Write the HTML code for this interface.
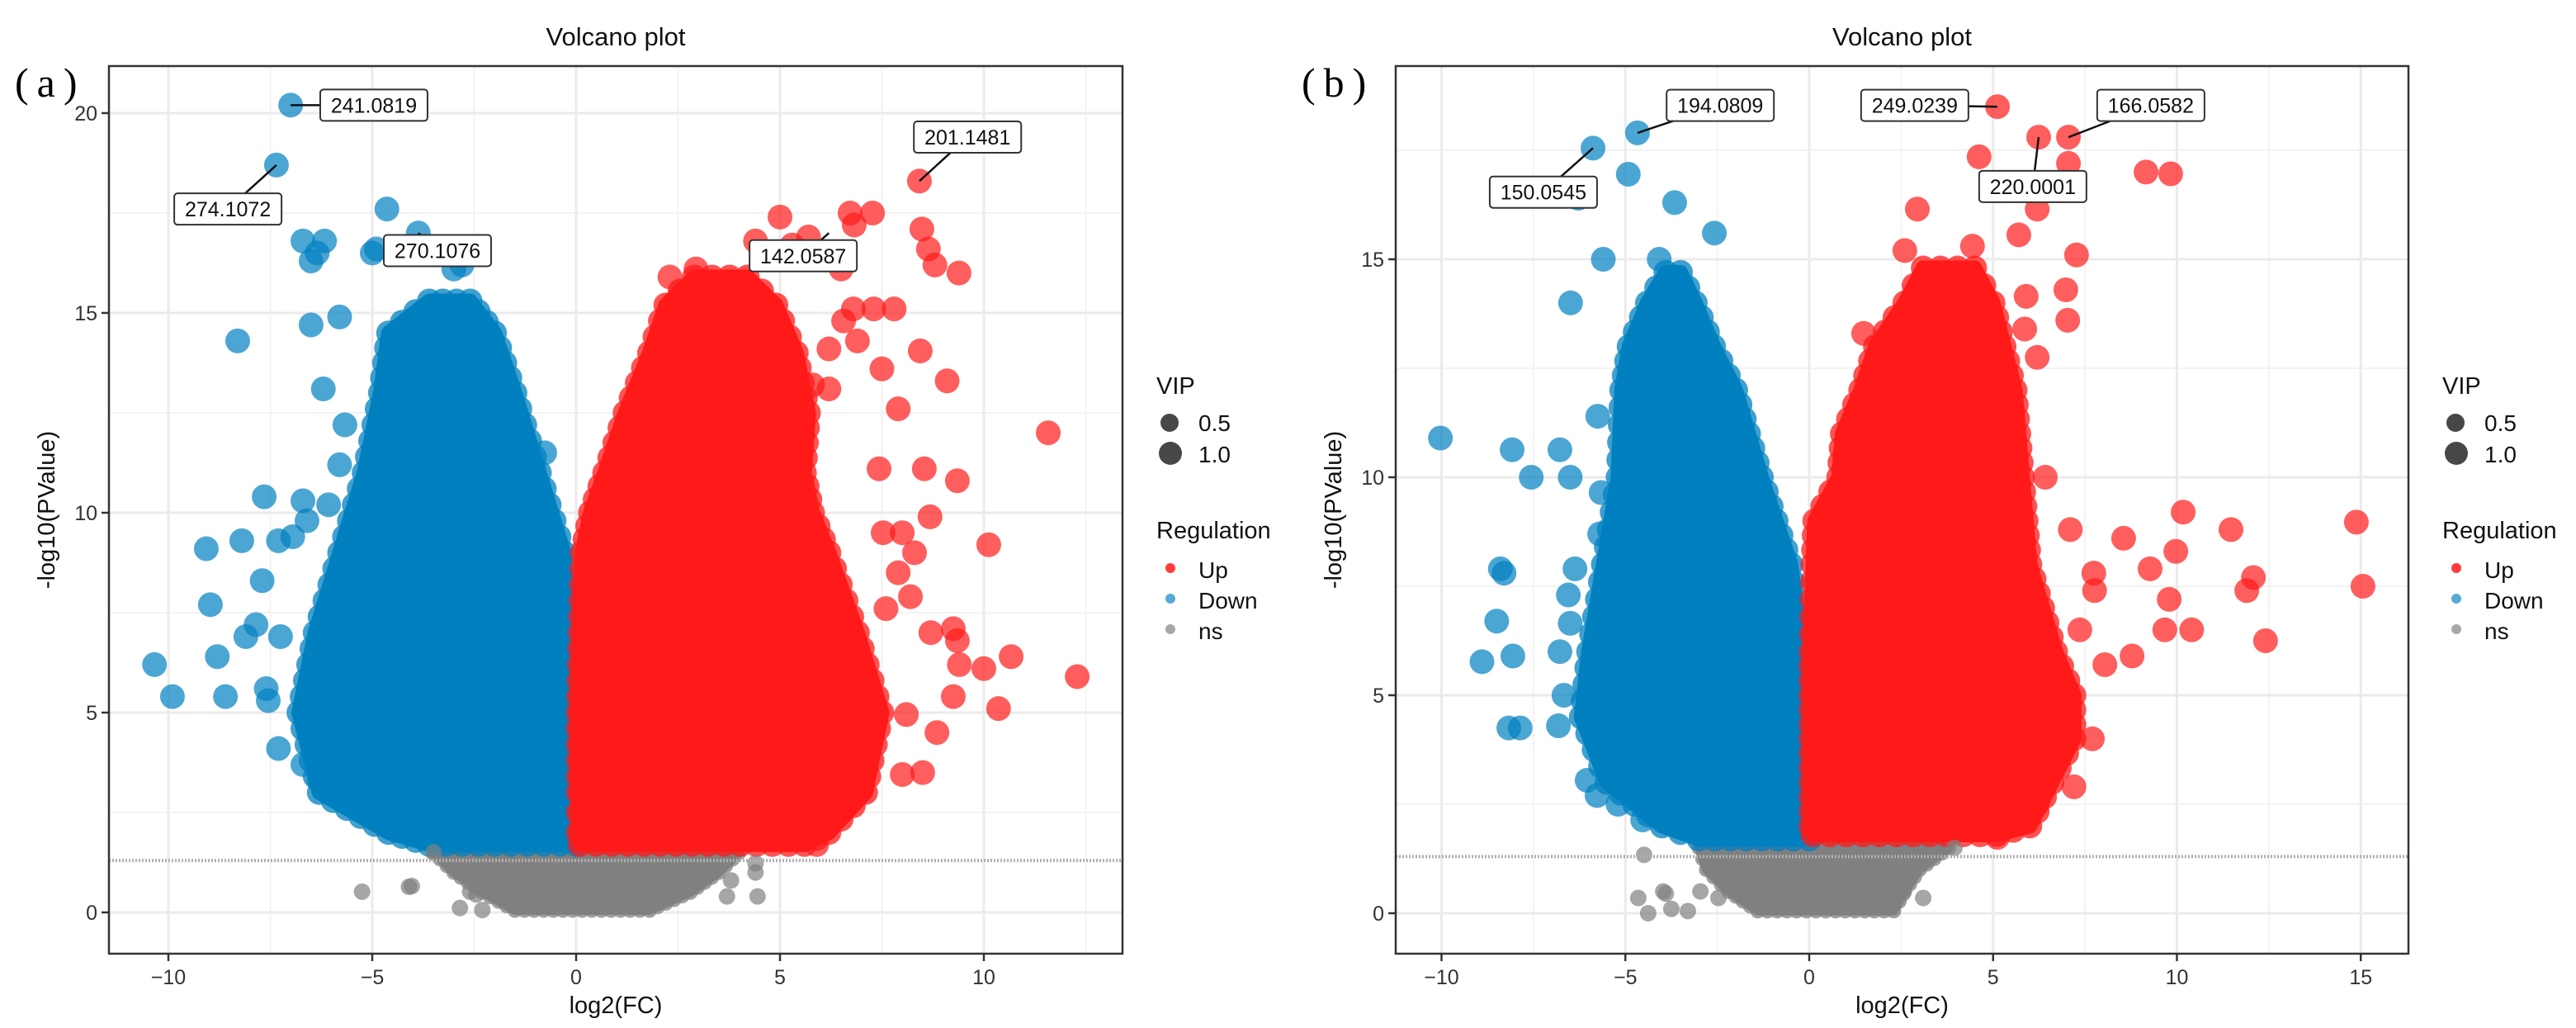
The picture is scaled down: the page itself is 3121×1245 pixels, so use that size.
<!DOCTYPE html>
<html><head><meta charset="utf-8"><style>
html,body{margin:0;padding:0;background:#fff;}
svg{display:block;}
text{font-family:"Liberation Sans",Arial,sans-serif;}
</style></head><body>
<svg id="chart" width="3121" height="1245" viewBox="0 0 3121 1245" xmlns="http://www.w3.org/2000/svg"></svg>
<script>
// ---------- Panel (a) data ----------
const aXTicks = [-10, -5, 0, 5, 10];
const aYTicks = [0, 5, 10, 15, 20];
const aXMinor = [-7.5, -2.5, 2.5, 7.5, 12.5];
const aYMinor = [2.5, 7.5, 12.5, 17.5];
const aDownY     = [1.7, 2, 3, 5, 7, 9, 11, 13, 14.5, 15.3];
const aDownLeft  = [-3.6, -4.6, -6.3, -6.8, -6.4, -5.8, -5.2, -4.8, -4.6, -3.6];
const aDownRight = [0, 0, 0, -0.05, -0.1, -0.3, -0.9, -1.5, -2.0, -2.6];
const aUpY     = [1.7, 2, 3, 5, 7, 9, 10, 11, 12.5, 14, 15.2, 15.9];
const aUpLeft  = [0.1, 0.05, 0.05, 0.05, 0.1, 0.15, 0.35, 0.7, 1.2, 1.8, 2.2, 2.9];
const aUpRight = [5.6, 6.2, 7.1, 7.5, 6.9, 6.2, 5.8, 5.6, 5.7, 5.4, 4.9, 4.2];
const aNsY     = [0.05, 0.5, 1.0, 1.5, 1.9];
const aNsLeft  = [-1.5, -2.3, -3.0, -3.5, -2.2];
const aNsRight = [1.8, 2.8, 3.5, 4.0, 1.8];
const aDownPtsX = [-7.0,-7.35,-4.64,-3.87,-6.7,-6.17,-6.5,-6.35,-5.0,-4.9,-3.0,-2.8,-8.3,-6.5,-5.8,-6.2,-5.67,-5.8,-0.77,-7.65,-6.7,-6.07,-6.6,-9.07,-8.2,-7.3,-6.95,-7.7,-8.97,-7.85,-8.1,-7.25,-10.34,-8.8,-9.9,-8.6,-7.6,-7.55,-7.3,-6.7,-6.3];
const aDownPtsY = [20.2,18.7,17.6,17.0,16.8,16.8,16.3,16.5,16.5,16.6,16.1,16.2,14.3,14.7,14.9,13.1,12.2,11.2,11.5,10.4,10.3,10.2,9.8,9.1,9.3,9.3,9.4,8.3,7.7,7.2,6.9,6.9,6.2,6.4,5.4,5.4,5.6,5.3,4.1,3.7,3.3];
const aUpPtsX = [8.42,6.72,7.27,6.82,5.0,8.48,8.64,8.8,9.39,4.4,5.3,5.7,6.5,2.94,2.3,6.8,7.3,7.8,6.56,6.9,6.2,8.44,7.5,9.1,5.8,6.2,7.9,11.58,7.43,8.54,9.35,8.68,7.53,8.0,10.12,8.3,7.9,8.2,7.6,9.25,9.35,8.7,10.67,10.0,9.4,12.29,9.25,10.36,8.85,8.1,8.0,8.5,5.9];
const aUpPtsY = [18.3,17.5,17.5,17.2,17.4,17.1,16.6,16.2,16.0,16.8,16.7,16.9,16.1,16.1,15.9,15.1,15.1,15.1,14.8,14.3,14.1,14.05,13.6,13.3,13.2,13.1,12.6,12.0,11.1,11.1,10.8,9.9,9.5,9.5,9.2,9.0,8.5,7.9,7.6,7.1,6.8,7.0,6.4,6.1,6.2,5.9,5.4,5.1,4.5,4.95,3.45,3.5,1.7];
const aNsPtsX = [-5.25,-4.03,-4.1,-2.85,-2.6,-2.45,-2.3,-3.5,-2.9,4.4,4.4,4.45,3.7,3.8];
const aNsPtsY = [0.52,0.66,0.64,0.11,0.52,0.45,0.06,1.5,1.2,1.23,1.0,0.4,0.4,0.8];
const aLabelText = ["241.0819","274.1072","270.1076","201.1481","142.0587"];
const aLabelPtX = [-7.0,-7.35,-3.87,8.42,6.2];
const aLabelPtY = [20.2,18.7,17.0,18.3,17.0];
const aLabelX = [-4.96,-8.54,-3.4,9.6,5.57];
const aLabelY = [20.2,17.6,16.56,19.4,16.43];

// ---------- Panel (b) data ----------
const bXTicks = [-10, -5, 0, 5, 10, 15];
const bYTicks = [0, 5, 10, 15];
const bXMinor = [-7.5, -2.5, 2.5, 7.5, 12.5];
const bYMinor = [2.5, 7.5, 12.5, 17.5];
const bDownY     = [1.7, 2, 3, 4.5, 6, 8, 10, 12, 13, 14, 14.7];
const bDownLeft  = [-3.0, -4.0, -5.5, -6.2, -6.0, -5.6, -5.2, -5.1, -4.9, -4.4, -3.9];
const bDownRight = [0, 0, 0, 0, -0.2, -0.5, -1.3, -2.0, -2.6, -3.1, -3.5];
const bUpY     = [1.8, 2, 3, 4, 5, 6, 8, 9, 10, 11, 12, 13, 14, 14.8];
const bUpLeft  = [0.1, 0.05, 0.05, 0.05, 0.05, 0.05, 0.1, 0.15, 0.8, 0.9, 1.4, 1.8, 2.6, 3.1];
const bUpRight = [5.1, 6.0, 6.6, 7.2, 7.2, 6.7, 6.0, 5.9, 5.8, 5.7, 5.6, 5.3, 5.0, 4.5];
const bNsY     = [0.05, 0.5, 1.0, 1.5, 1.9];
const bNsLeft  = [-1.4, -2.2, -2.8, -3.0, -2.0];
const bNsRight = [2.3, 2.6, 3.0, 3.8, 1.6];
const bDownPtsX = [-4.67,-5.88,-4.92,-6.28,-3.66,-2.58,-5.6,-6.49,-4.08,-3.46,-5.75,-10.03,-8.08,-6.78,-7.56,-6.5,-5.66,-5.1,-5.7,-8.4,-8.3,-6.37,-5.54,-6.55,-8.5,-6.5,-8.9,-8.06,-6.78,-6.67,-8.17,-7.86,-6.82,-6.04,-5.77,-5.2,-4.53];
const bDownPtsY = [17.9,17.55,16.95,16.4,16.3,15.6,15.0,14.0,15.0,14.4,11.4,10.9,10.63,10.63,10.0,10.0,9.65,9.4,8.7,7.9,7.8,7.9,7.7,7.3,6.7,6.65,5.77,5.9,6.0,5.0,4.25,4.25,4.3,3.05,2.7,2.5,2.14];
const bUpPtsX = [5.12,6.24,7.05,4.62,7.05,9.16,9.83,6.2,2.94,5.7,7.27,2.6,4.44,6.98,5.9,7.03,5.86,1.48,6.2,6.42,7.1,8.55,10.17,11.47,14.88,9.97,9.27,7.74,7.76,12.08,11.9,15.06,9.79,9.67,10.4,7.36,12.41,8.78,8.04,7.7,7.2,6.2,5.12];
const bUpPtsY = [18.5,17.8,17.8,17.35,17.2,17.0,16.96,16.15,16.15,15.56,15.1,15.2,15.3,14.3,14.15,13.6,13.4,13.3,12.75,10.0,8.8,8.6,9.2,8.8,8.97,8.3,7.9,7.8,7.4,7.7,7.4,7.5,7.2,6.5,6.5,6.5,6.25,5.9,5.7,4.0,2.9,2.5,1.74];
const bNsPtsX = [-4.49,-3.97,-3.9,-4.65,-3.75,-3.3,-4.38,-2.96,-2.47,3.1,2.54,3.95,2.3];
const bNsPtsY = [1.34,0.5,0.45,0.35,0.1,0.05,0.0,0.5,0.35,0.35,0.45,1.5,0.2];
const bLabelText = ["194.0809","150.0545","249.0239","166.0582","220.0001"];
const bLabelPtX = [-4.67,-5.88,5.12,7.05,6.24];
const bLabelPtY = [17.9,17.55,18.5,17.8,17.8];
const bLabelX = [-2.42,-7.23,2.87,9.29,6.08];
const bLabelY = [18.53,16.54,18.53,18.53,16.67];

const NS = "http://www.w3.org/2000/svg";
const svg = document.getElementById("chart");
function mk(tag, attrs, parent) {
  const e = document.createElementNS(NS, tag);
  for (const k in attrs) e.setAttribute(k, attrs[k]);
  (parent || svg).appendChild(e);
  return e;
}

const BLUE = "#0080bf", RED = "#ff1a1a", GREY = "#808080";

function drawPanel(cfg, d) {
  const g = mk("g", {});
  
  
  const sx = v => cfg.x0 + v * cfg.xs;
  const sy = v => cfg.y0 - v * cfg.ys;
  const L = cfg.left, R = cfg.right, T = cfg.top, B = cfg.bottom;
  mk("rect", {x: L, y: T, width: R - L, height: B - T, fill: "#fff"}, g);
  d.xMinor.forEach(v => { const x = sx(v); if (x > L && x < R) mk("line", {x1: x, x2: x, y1: T, y2: B, stroke: "#f3f3f3", "stroke-width": 2}, g); });
  d.yMinor.forEach(v => { const y = sy(v); if (y > T && y < B) mk("line", {x1: L, x2: R, y1: y, y2: y, stroke: "#f3f3f3", "stroke-width": 2}, g); });
  d.xTicks.forEach(v => { const x = sx(v); mk("line", {x1: x, x2: x, y1: T, y2: B, stroke: "#ebebeb", "stroke-width": 3}, g); });
  d.yTicks.forEach(v => { const y = sy(v); mk("line", {x1: L, x2: R, y1: y, y2: y, stroke: "#ebebeb", "stroke-width": 3}, g); });

  function mass(ys, lefts, rights, color, rad, name) {
    const P = [];
    for (let i = 0; i < ys.length; i++) P.push([sx(lefts[i]), sy(ys[i])]);
    for (let i = ys.length - 1; i >= 0; i--) P.push([sx(rights[i]), sy(ys[i])]);
    const p = mk("polygon", {points: P.map(q => q[0] + "," + q[1]).join(" "), fill: color, stroke: color, "stroke-width": rad * 1.2, "stroke-linejoin": "round"}, g);
    
    
    // bumpy outline of overlapping circles
    for (let i = 0; i < P.length; i++) {
      const q = P[i], n = P[(i + 1) % P.length];
      const steps = Math.max(1, Math.round(Math.hypot(n[0] - q[0], n[1] - q[1]) / (rad * 1.3)));
      for (let k = 0; k < steps; k++) {
        const t = k / steps;
        const c = mk("circle", {cx: q[0] + (n[0] - q[0]) * t, cy: q[1] + (n[1] - q[1]) * t, r: rad, fill: color, "fill-opacity": 0.75}, g);
        
        
      }
    }
  }
  mass(d.nsY, d.nsLeft, d.nsRight, GREY, 9, "ns-point-cluster");
  mass(d.downY, d.downLeft, d.downRight, BLUE, 15, "down-point-cluster");
  mass(d.upY, d.upLeft, d.upRight, RED, 15, "up-point-cluster");

  function pts(xs, ys, color, r, name) {
    for (let i = 0; i < xs.length; i++) {
      const c = mk("circle", {cx: sx(xs[i]), cy: sy(ys[i]), r: r, fill: color, "fill-opacity": 0.7}, g);
      
      
    }
  }
  pts(d.nsX, d.nsPY, GREY, 10, "ns-point");
  pts(d.downX, d.downPY, "#0080c0", 15, "down-point");
  pts(d.upX, d.upPY, RED, 15, "up-point");

  const th = mk("line", {x1: L, x2: R, y1: sy(1.3), y2: sy(1.3), stroke: "#b0b0b0", "stroke-width": 4, "stroke-dasharray": "2,2"}, g);
  
  

  for (let i = 0; i < d.lt.length; i++) {
    const lx = sx(d.lx[i]), ly = sy(d.ly[i]);
    const ln = mk("line", {x1: sx(d.lpx[i]), y1: sy(d.lpy[i]), x2: lx, y2: ly, stroke: "#111", "stroke-width": 2.5}, g);
    
    
    const w = 130, h = 38;
    const bx = mk("rect", {x: lx - w / 2, y: ly - h / 2, width: w, height: h, rx: 4, fill: "#fff", stroke: "#333", "stroke-width": 2}, g);
    
    
    const t = mk("text", {x: lx, y: ly + 9, "font-size": 25, "text-anchor": "middle", fill: "#111"}, g);
    t.textContent = d.lt[i];
    
    
  }

  mk("rect", {x: L, y: T, width: R - L, height: B - T, fill: "none", stroke: "#333", "stroke-width": 2.5}, g);

  d.xTicks.forEach(v => {
    const x = sx(v);
    mk("line", {x1: x, x2: x, y1: B, y2: B + 9, stroke: "#333", "stroke-width": 2.5}, g);
    const t = mk("text", {x: x, y: B + 37, "font-size": 25, "text-anchor": "middle", fill: "#333"}, g);
    t.textContent = v < 0 ? "\u2212" + (-v) : String(v);
    
    
  });
  d.yTicks.forEach(v => {
    const y = sy(v);
    mk("line", {x1: L - 9, x2: L, y1: y, y2: y, stroke: "#333", "stroke-width": 2.5}, g);
    const t = mk("text", {x: L - 14, y: y + 9, "font-size": 25, "text-anchor": "end", fill: "#333"}, g);
    t.textContent = String(v);
    
    
  });

  const cx = (L + R) / 2;
  const tt = mk("text", {x: cx, y: 55, "font-size": 31, "text-anchor": "middle", fill: "#111"}, g);
  tt.textContent = "Volcano plot";
  
  
  const xt = mk("text", {x: cx, y: 1227, "font-size": 29, "text-anchor": "middle", fill: "#111"}, g);
  xt.textContent = "log2(FC)";
  
  
  const yt = mk("text", {x: 0, y: 0, "font-size": 29, "text-anchor": "middle", fill: "#111", transform: "translate(" + (L - 66) + "," + ((T + B) / 2) + ") rotate(-90)"}, g);
  yt.textContent = "-log10(PValue)";
  
  
  const pl = mk("text", {x: L - 114, y: 117, "font-size": 50, fill: "#000", style: "font-family:'Liberation Serif',serif;letter-spacing:10px"}, g);
  pl.textContent = "(" + cfg.letter + ")";
  
  

  const lx = R + 41;
  function txt(x, y, s, fs, name) {
    const t = mk("text", {x: x, y: y, "font-size": fs, fill: "#111"}, g);
    t.textContent = s;
    
    
  }
  txt(lx, 477, "VIP", 29, "legend-title-vip");
  let c1 = mk("circle", {cx: lx + 16, cy: 512, r: 11, fill: "#333", "fill-opacity": 0.9}, g);
  
  
  txt(lx + 51, 522, "0.5", 28, "legend-vip-0.5");
  let c2 = mk("circle", {cx: lx + 17, cy: 549, r: 14, fill: "#333", "fill-opacity": 0.9}, g);
  
  
  txt(lx + 51, 560, "1.0", 28, "legend-vip-1.0");
  txt(lx, 652, "Regulation", 29, "legend-title-regulation");
  [["Up", RED, 688], ["Down", "#3a9ad0", 725], ["ns", "#999", 762]].forEach(e => {
    const c = mk("circle", {cx: lx + 17, cy: e[2], r: 6, fill: e[1], "fill-opacity": 0.85}, g);
    
    
    txt(lx + 51, e[2] + 12, e[0], 28, "legend-entry-" + e[0].toLowerCase());
  });
}

drawPanel({name: "panel-a", letter: "a", x0: 698, xs: 49.4, y0: 1105, ys: 48.4, left: 132, right: 1360, top: 80, bottom: 1155}, {
  xTicks: aXTicks, yTicks: aYTicks, xMinor: aXMinor, yMinor: aYMinor,
  downY: aDownY, downLeft: aDownLeft, downRight: aDownRight,
  upY: aUpY, upLeft: aUpLeft, upRight: aUpRight,
  nsY: aNsY, nsLeft: aNsLeft, nsRight: aNsRight,
  downX: aDownPtsX, downPY: aDownPtsY, upX: aUpPtsX, upPY: aUpPtsY, nsX: aNsPtsX, nsPY: aNsPtsY,
  lt: aLabelText, lpx: aLabelPtX, lpy: aLabelPtY, lx: aLabelX, ly: aLabelY
});
drawPanel({name: "panel-b", letter: "b", x0: 2192, xs: 44.55, y0: 1106, ys: 52.8, left: 1691, right: 2918, top: 80, bottom: 1155}, {
  xTicks: bXTicks, yTicks: bYTicks, xMinor: bXMinor, yMinor: bYMinor,
  downY: bDownY, downLeft: bDownLeft, downRight: bDownRight,
  upY: bUpY, upLeft: bUpLeft, upRight: bUpRight,
  nsY: bNsY, nsLeft: bNsLeft, nsRight: bNsRight,
  downX: bDownPtsX, downPY: bDownPtsY, upX: bUpPtsX, upPY: bUpPtsY, nsX: bNsPtsX, nsPY: bNsPtsY,
  lt: bLabelText, lpx: bLabelPtX, lpy: bLabelPtY, lx: bLabelX, ly: bLabelY
});
</script>
</body></html>
